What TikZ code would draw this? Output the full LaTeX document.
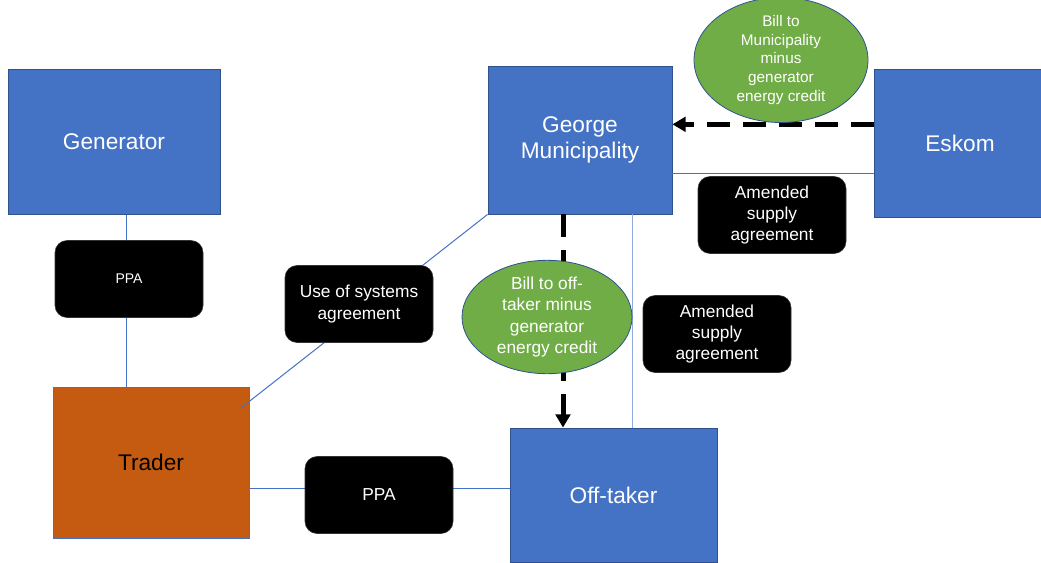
\documentclass[tikz,border=0pt]{standalone}
\usepackage{fontspec}
\setmainfont{Liberation Sans}
\usepackage{tikz}
\usetikzlibrary{shapes.geometric, arrows.meta, calc}
\definecolor{partyblue}{HTML}{4472C4}
\definecolor{edgeblue}{HTML}{2F528F}
\definecolor{traderorange}{HTML}{C55A11}
\definecolor{billgreen}{HTML}{70AD47}
\definecolor{paleblue}{HTML}{8FAADC}
\tikzstyle{party} = [rectangle, inner sep=0pt, align=center, text=white, font=\fontsize{17}{20}\selectfont, draw=edgeblue, line width=0.6pt, fill=partyblue]
\tikzstyle{trader} = [rectangle, inner sep=0pt, align=center, text=black, font=\fontsize{17}{20}\selectfont, draw=partyblue, line width=0.75pt, fill=traderorange]
\tikzstyle{agreement} = [rectangle, rounded corners=9pt, inner sep=0pt, minimum width=111pt, minimum height=57.75pt, align=center, text=white, font=\fontsize{13}{16}\selectfont, draw=black!80, fill=black]
\tikzstyle{bill} = [ellipse, inner sep=0pt, align=center, text=white, draw=edgeblue, line width=0.6pt, fill=billgreen]
\tikzstyle{link} = [partyblue, line width=0.75pt]
\tikzstyle{arrow} = [black, line width=3.75pt, dash pattern=on 17pt off 10pt, -{Triangle[length=10pt,width=11pt]}]

\begin{document}
\begin{tikzpicture}[x=0.75pt, y=-0.75pt]
\useasboundingbox (0,0) rectangle (1041,563);
\node (generator) [party, minimum width=159pt, minimum height=108.75pt] at (114,142) {Generator};
\node (muni) [party, minimum width=138pt, minimum height=111pt] at (580,140) {George\\Municipality};
\node (eskom) [party, minimum width=129pt, minimum height=111pt] at (960,143) {Eskom};
\node (trader) [trader, minimum width=147pt, minimum height=113.25pt] at (151,462.5) {Trader};
\node (offtaker) [party, minimum width=155.25pt, minimum height=100.5pt] at (613.5,495) {Off-taker};

\draw [link] ([xshift=9pt]generator.south) -- ([xshift=9pt]generator.south |- trader.north);
\draw [link] (muni.south west) -- ($(trader.north east)+(-8,21)$);
\draw [link] ([yshift=5pt]offtaker.west) -- ([yshift=5pt]offtaker.west -| trader.east);
\draw [link] ([yshift=-23pt]eskom.west) -- ([yshift=-23pt]eskom.west -| muni.east);
\draw [link, paleblue] ([xshift=39pt]muni.south) -- ([xshift=39pt]muni.south |- offtaker.north);
\draw [arrow] ([yshift=14pt]eskom.west) -- ([yshift=14pt]eskom.west -| muni.east);
\draw [arrow] ([xshift=-12.75pt]muni.south) -- ([xshift=-12.75pt]muni.south |- offtaker.north);

\node (ppaTop) [agreement, font=\fontsize{10.5}{13}\selectfont] at (129,279) {PPA};
\node (useSys) [agreement] at (359,304) {Use of systems\\agreement};
\node (ppaBottom) [agreement] at (379,495) {PPA};
\node (supplyUp) [agreement] at (772,215) {Amended\\supply\\agreement};
\node (supplyDown) [agreement] at (717,334) {Amended\\supply\\agreement};
\node (billMuni) [bill, minimum width=130.5pt, minimum height=77.25pt, font=\fontsize{11.5}{13.9}\selectfont] at (781,60) {Bill to\\Municipality\\minus\\generator\\energy credit};
\node (billOff) [bill, minimum width=127.5pt, minimum height=76.5pt, font=\fontsize{13}{16}\selectfont] at (547,317) {Bill to off-\\taker minus\\generator\\energy credit};
\end{tikzpicture}
\end{document}
